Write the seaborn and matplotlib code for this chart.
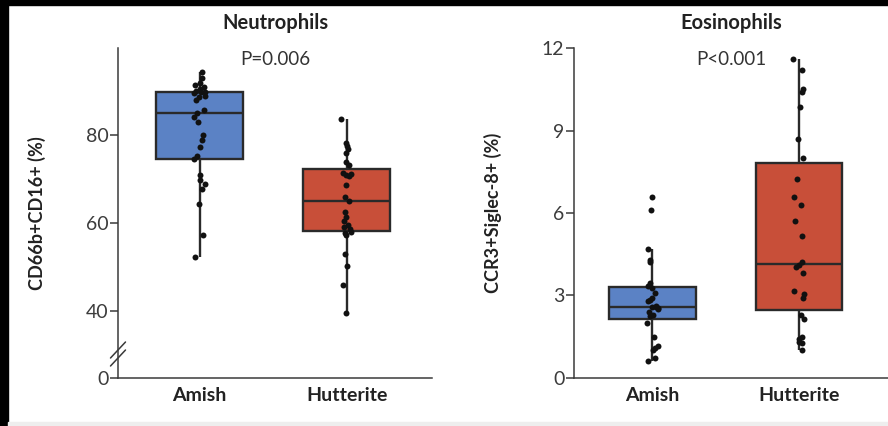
import numpy as np
import pandas as pd
import matplotlib
matplotlib.use("Agg")
import matplotlib.pyplot as plt
import seaborn as sns
from matplotlib.patches import Rectangle

# ---- data -------------------------------------------------------------
groups = ["Amish", "Hutterite"]
box_colors = ["#5b82c5", "#c84f39"]

neut_amish = [52.4, 57.4, 64.4, 67.8, 68.9, 69.8, 70.9, 74.5, 75.1, 77.3,
              78.9, 80.0, 83.0, 84.1, 84.9, 85.7, 87.8, 88.5, 88.8, 89.4,
              89.6, 89.8, 90.0, 90.3, 90.9, 91.2, 91.7, 92.8, 94.3]
neut_hutterite = [39.7, 46.0, 50.2, 53.0, 57.3, 57.7, 58.0, 58.6, 59.2, 59.6,
                  60.6, 61.4, 62.6, 65.1, 65.9, 68.7, 70.6, 70.9, 71.1, 71.3,
                  73.1, 73.8, 75.9, 76.8, 77.5, 78.1, 83.6]
eos_amish = [0.6, 0.7, 1.0, 1.07, 1.15, 1.5, 2.0, 2.25, 2.28, 2.4,
             2.5, 2.54, 2.56, 2.58, 2.6, 2.8, 2.83, 2.9, 3.1, 3.25,
             3.35, 3.45, 4.2, 4.3, 4.7, 6.1, 6.6]
eos_hutterite = [1.02, 1.25, 1.3, 1.42, 1.5, 2.15, 2.3, 2.9, 3.05, 3.15,
                 3.8, 4.05, 4.1, 4.2, 5.15, 5.7, 6.3, 6.6, 7.25, 8.0,
                 8.7, 9.85, 10.4, 10.5, 11.2, 11.6]

titles = ["Neutrophils", "Eosinophils"]
ylabels = ["CD66b+CD16+ (%)", "CCR3+Siglec-8+ (%)"]
pvalues = ["P=0.006", "P<0.001"]
neut_ticks = [0, 40, 60, 80]
eos_ticks = [0, 3, 6, 9, 12]


def long_frame(a, b):
    return pd.DataFrame({
        "group": ["Amish"] * len(a) + ["Hutterite"] * len(b),
        "value": list(a) + list(b),
    })


# compressed segment below 35 so the 0 baseline sits under a broken axis
def fwd(v):
    v = np.asarray(v, dtype=float)
    return np.where(v >= 35, v, 25 + v * (10 / 35))


def inv(p):
    p = np.asarray(p, dtype=float)
    return np.where(p >= 35, p, (p - 25) * 3.5)


# ---- style ------------------------------------------------------------
sns.set_style("ticks")
plt.rcParams["font.family"] = ["Lato", "DejaVu Sans"]
ink = "#2a2a2a"

W, H = 888, 426
fig = plt.figure(figsize=(W / 100, H / 100), dpi=100)
fig.patch.set_facecolor("white")

ax_h = (377.7 - 48.3) / H
ax_b = 1 - 377.7 / H
ax1 = fig.add_axes([118 / W, ax_b, 314 / W, ax_h])
ax2 = fig.add_axes([574 / W, ax_b, 314 / W, ax_h])

panels = [
    (ax1, long_frame(neut_amish, neut_hutterite), neut_ticks, (-0.554, 1.58)),
    (ax2, long_frame(eos_amish, eos_hutterite), eos_ticks, (-0.534, 1.607)),
]

np.random.seed(7)

for i, (ax, df, ticks, xlim) in enumerate(panels):
    sns.boxplot(data=df, x="group", y="value", hue="group", order=groups,
                hue_order=groups, palette=box_colors, saturation=1,
                width=0.59, showfliers=False, showcaps=False, whis=1.5,
                linewidth=1.7, linecolor=ink, legend=False, ax=ax, zorder=2)
    sns.stripplot(data=df, x="group", y="value", order=groups,
                  color="#111111", size=4.3, jitter=0.04, ax=ax, zorder=4)

    if i == 0:
        ax.set_yscale("function", functions=(fwd, inv))
        ax.set_ylim(0, 99.6)
    else:
        ax.set_ylim(0, 12)
    ax.set_xlim(*xlim)
    ax.set_yticks(ticks)
    ax.set_yticklabels([str(t) for t in ticks])
    ax.minorticks_off()

    sns.despine(ax=ax)
    for side in ("left", "bottom"):
        ax.spines[side].set_color("#3a3a3a")
        ax.spines[side].set_linewidth(1.1)
    ax.tick_params(axis="y", length=6, width=1.1, color="#3a3a3a",
                   labelsize=14, labelcolor="#3c3c3c", pad=1)
    ax.tick_params(axis="x", length=0, labelsize=14, pad=7,
                   labelcolor="#222222")
    for lab in ax.get_xticklabels():
        lab.set_fontweight("bold")

    ax.set_xlabel("")
    ax.set_ylabel(ylabels[i], fontsize=13, fontweight="bold", color="#222222")
    ax.yaxis.set_label_coords(-0.228, 0.5)

    ax.text(0.5, (377.7 - 23) / 329.4, titles[i], transform=ax.transAxes,
            ha="center", va="center", fontsize=14.5, fontweight="bold",
            color="#222222")
    ax.text(0.5, (377.7 - 60) / 329.4, pvalues[i], transform=ax.transAxes,
            ha="center", va="center", fontsize=13.5, color="#333333")
    ax.set_facecolor("white")

# axis-break marks on the neutrophil axis
ah = 329.4
for dy in (-4.0, 4.0):
    yc = (377.7 - 354 + dy) / ah
    ax1.plot([-7.5 / 314, 7.5 / 314], [yc - 8 / ah, yc + 8 / ah],
             transform=ax1.transAxes, color="#3a3a3a", lw=1.1,
             clip_on=False, zorder=5)

# dark frame along the top and left edges
fig.patches.append(Rectangle((0, 1 - 5 / H), 1, 5 / H, transform=fig.transFigure,
                             color="black", zorder=10))
fig.patches.append(Rectangle((0, 0), 8 / W, 1, transform=fig.transFigure,
                             color="black", zorder=10))
fig.patches.append(Rectangle((8 / W, 0), 1, 4 / H, transform=fig.transFigure,
                             color="#eeeeee", zorder=10))

fig.savefig("out.png", dpi=100)
